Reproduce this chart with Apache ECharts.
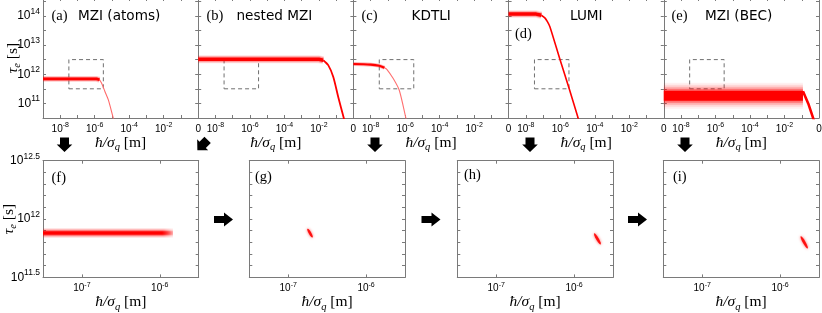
<!DOCTYPE html>
<html><head><meta charset="utf-8">
<script src="https://cdn.jsdelivr.net/npm/echarts@6/dist/echarts.min.js"></script>
<style>html,body{margin:0;padding:0;background:#fff}#c{width:822px;height:313px}</style>
</head><body><div id="c"></div>
<script>
// ---------------- DATA (x = log10(ħ/σq [m]), y = log10(τe [s])) ----------------
const topPanelLabels = ['(a)', '(b)', '(c)', '(d)', '(e)'];
const topPanelTitles = ['MZI (atoms)', 'nested MZI', 'KDTLI', 'LUMI', 'MZI (BEC)'];
const bottomPanelLabels = ['(f)', '(g)', '(h)', '(i)'];

// (a) MZI (atoms)
const aCoreX = [-9, -5.9, -5.72];
const aCoreY = [11.84, 11.84, 11.81];
const aTailX = [-5.72, -5.6, -5.41, -5.21, -4.92, -4.85];
const aTailY = [11.81, 11.69, 11.41, 11.12, 10.49, 10.36];
// (b) nested MZI
const bCoreX = [-9, -2.0, -1.75];
const bCoreY = [12.51, 12.51, 12.48];
const bTailX = [-1.75, -1.46, -1.17, -0.88, -0.55, -0.5];
const bTailY = [12.48, 12.31, 11.91, 11.22, 10.48, 10.38];
// (c) KDTLI
const cCoreX = [-9, -8, -7.5, -7.2];
const cCoreY = [12.35, 12.33, 12.29, 12.22];
const cTailX = [-7.2, -7.05, -6.69, -6.34, -5.95, -5.9];
const cTailY = [12.22, 12.16, 11.85, 11.45, 10.48, 10.36];
// (d) LUMI
const dCoreX = [-9, -7.4, -7.1];
const dCoreY = [14.06, 14.06, 14.02];
const dTailX = [-7.1, -6.9, -6.75, -6.6, -6.02, -5.48, -4.96, -4.9];
const dTailY = [14.02, 13.93, 13.8, 13.62, 12.5, 11.49, 10.48, 10.37];
// (e) MZI (BEC)
const eCoreX = [-9, -0.93];
const eCoreY = [11.26, 11.26];
const eTailX = [-0.93, -0.62, -0.33, -0.28];
const eTailY = [11.42, 10.99, 10.48, 10.4];

// zoom window shown in the bottom row
const zoomBoxX = [-7.5, -5.5];
const zoomBoxY = [11.5, 12.5];

// (f) band, (g)(h)(i) single spots
const fBandX = [-7.5, -5.83];
const fBandY = [11.88, 11.88];
const gSpot = [-6.72, 11.88];
const hSpot = [-5.70, 11.83];
const iSpot = [-5.69, 11.80];

// axis ranges / tick values
const topXRange = [-9, 0];
const topYRange = [10.5, 14.61];
const botXTicks = [-7, -6];
const botYRange = [11.5, 12.5];

// ---------------- STYLE ----------------
const SANS = '"Liberation Sans", Arial, sans-serif';
const SERIF = '"Liberation Serif", "DejaVu Serif", serif';
const AXC = '#7a7a7a';
const RED = '#ff0000';

const zip = (xs, ys) => xs.map((x, k) => [x, ys[k]]);

const xRich = {
  b: {fontFamily: SANS, fontSize: 10, color: '#000', lineHeight: 14},
  s: {fontFamily: SANS, fontSize: 7, color: '#000', lineHeight: 14, verticalAlign: 'top'}
};
const yRich = {
  b: {fontFamily: SANS, fontSize: 12, color: '#000', lineHeight: 18},
  s: {fontFamily: SANS, fontSize: 8.5, color: '#000', lineHeight: 18, verticalAlign: 'top'}
};
const nameRich = {
  i: {fontFamily: SERIF, fontStyle: 'italic', fontSize: 15.5, color: '#000', lineHeight: 20},
  q: {fontFamily: SERIF, fontStyle: 'italic', fontSize: 10.5, color: '#000', lineHeight: 20, verticalAlign: 'bottom'},
  r: {fontFamily: SERIF, fontSize: 15.5, color: '#000', lineHeight: 20}
};
const X_NAME = '{i|ħ/σ}{q|q}{r| [m]}';
const Y_NAME = '{i|τ}{q|e}{r| [s]}';

function fmtTopX(v) {
  const r = Math.round(v);
  if (Math.abs(v - r) > 1e-6) return '';
  if (r === 0) return '{b|0}';
  if (r % 2 === 0) return '{b|10}{s|' + r + '}';
  return '';
}
function fmtTopY(v) {
  const r = Math.round(v);
  if (Math.abs(v - r) > 1e-6) return '';
  return '{b|10}{s|' + r + '}';
}
function fmtBotY(v) {
  const h = Math.round(v * 2) / 2;
  if (Math.abs(v - h) > 1e-6) return '';
  return '{b|10}{s|' + h + '}';
}
function fmtBotX(v) {
  return '{b|10}{s|' + Math.round(v) + '}';
}

const grids = [], xAxes = [], yAxes = [], series = [], graphics = [];
const TOP_L = 43, TOP_W = 155.2;
for (let i = 0; i < 5; i++) grids.push({left: TOP_L + i * TOP_W, top: -2, width: TOP_W, height: 120, outerBoundsMode: 'none', containLabel: false});
const BOT_L = [43, 249.3, 457.3, 663.3];
for (let i = 0; i < 4; i++) grids.push({left: BOT_L[i], top: 160.7, width: 155.7, height: 116.7, outerBoundsMode: 'none', containLabel: false});

function axisBase(gi, pos) {
  return {
    type: 'value', gridIndex: gi, position: pos,
    axisLine: {show: true, onZero: false, lineStyle: {color: AXC, width: 1}},
    splitLine: {show: false},
    axisPointer: {show: false},
    nameMoveOverlap: false
  };
}
const tick = {show: true, inside: true, length: 3, lineStyle: {color: AXC}};

// top row axes
for (let i = 0; i < 5; i++) {
  const bx = axisBase(i, 'bottom');
  Object.assign(bx, {
    min: topXRange[0], max: topXRange[1], interval: 1, axisTick: tick,
    axisLabel: {show: true, margin: 4, formatter: fmtTopX, rich: xRich, showMaxLabel: true, showMinLabel: true},
    name: X_NAME, nameLocation: 'middle', nameGap: 15, nameTextStyle: {rich: nameRich}
  });
  const tx = axisBase(i, 'top');
  Object.assign(tx, {min: topXRange[0], max: topXRange[1], interval: 1, axisTick: tick, axisLabel: {show: false}});
  xAxes.push(bx, tx);
  const ly = axisBase(i, 'left');
  Object.assign(ly, {
    min: topYRange[0], max: topYRange[1], interval: 0.5, axisTick: tick,
    axisLabel: {show: i === 0, margin: 3, formatter: fmtTopY, rich: yRich}
  });
  if (i === 0) Object.assign(ly, {name: Y_NAME, nameLocation: 'middle', nameGap: 20, nameRotate: 90, nameTextStyle: {rich: nameRich}});
  const ry = axisBase(i, 'right');
  Object.assign(ry, {min: topYRange[0], max: topYRange[1], interval: 0.5, axisTick: tick, axisLabel: {show: false}});
  yAxes.push(ly, ry);
}
// bottom row axes
for (let j = 0; j < 4; j++) {
  const gi = 5 + j;
  const bx = axisBase(gi, 'bottom');
  Object.assign(bx, {
    min: zoomBoxX[0], max: zoomBoxX[1],
    axisTick: Object.assign({customValues: botXTicks}, tick),
    axisLabel: {show: true, margin: 4, formatter: fmtBotX, rich: xRich, customValues: botXTicks},
    name: X_NAME, nameLocation: 'middle', nameGap: 15, nameTextStyle: {rich: nameRich}
  });
  const tx = axisBase(gi, 'top');
  Object.assign(tx, {min: zoomBoxX[0], max: zoomBoxX[1], axisTick: Object.assign({customValues: botXTicks}, tick), axisLabel: {show: false}});
  xAxes.push(bx, tx);
  const ly = axisBase(gi, 'left');
  Object.assign(ly, {
    min: botYRange[0], max: botYRange[1], interval: 0.1, axisTick: tick,
    axisLabel: {show: j === 0, margin: 3, formatter: fmtBotY, rich: yRich, showMinLabel: true, showMaxLabel: true}
  });
  if (j === 0) Object.assign(ly, {name: Y_NAME, nameLocation: 'middle', nameGap: 24, nameRotate: 90, nameTextStyle: {rich: nameRich}});
  const ry = axisBase(gi, 'right');
  Object.assign(ry, {min: botYRange[0], max: botYRange[1], interval: 0.1, axisTick: tick, axisLabel: {show: false}});
  yAxes.push(ly, ry);
}

function lineSeries(gi, data, style, extra) {
  return Object.assign({
    type: 'line', xAxisIndex: 2 * gi, yAxisIndex: 2 * gi, data: data,
    showSymbol: false, symbol: 'none', silent: true, animation: false, clip: true,
    lineStyle: Object.assign({cap: 'butt', join: 'round'}, style), z: 3
  }, extra || {});
}
// a soft band: a solid core plus wider translucent halos of the same path
function band(gi, data, coreW, halos, extra, fadeEnd) {
  const col = a => fadeEnd ? {type: 'linear', x: 0, y: 0, x2: 1, y2: 0, colorStops: [
      {offset: 0, color: 'rgba(255,0,0,' + a + ')'}, {offset: fadeEnd, color: 'rgba(255,0,0,' + a + ')'},
      {offset: 1, color: 'rgba(255,0,0,0)'}]} : 'rgba(255,0,0,' + a + ')';
  halos.forEach(([w, a]) => series.push(lineSeries(gi, data, {color: col(a), width: w}, extra)));
  series.push(lineSeries(gi, data, {color: col(1), width: coreW}, extra));
}
function boxMark() {
  return {
    silent: true,
    itemStyle: {color: 'rgba(0,0,0,0)', borderColor: '#707070', borderWidth: 1, borderType: [4, 3]},
    data: [[{coord: [zoomBoxX[0], zoomBoxY[0]]}, {coord: [zoomBoxX[1], zoomBoxY[1]]}]]
  };
}

// (a)
series.push(lineSeries(0, zip(aTailX, aTailY), {color: '#ff6a6a', width: 1.1}, {smooth: 0.25, markArea: boxMark()}));
band(0, zip(aCoreX, aCoreY), 2.6, [[6, 0.15], [4.4, 0.3]]);
// (b)
series.push(lineSeries(1, zip(bTailX, bTailY), {color: RED, width: 1.8}, {smooth: 0.25, markArea: boxMark()}));
band(1, zip(bCoreX, bCoreY), 3.6, [[8, 0.12], [6, 0.3]]);
// (c)
series.push(lineSeries(2, zip(cTailX, cTailY), {color: '#ff7070', width: 1.1}, {smooth: 0.25, markArea: boxMark()}));
band(2, zip(cCoreX, cCoreY), 2.2, [[3.8, 0.3]], {smooth: 0.3});
// (d)
series.push(lineSeries(3, zip(dTailX, dTailY), {color: RED, width: 1.6}, {smooth: 0.25, markArea: boxMark()}));
band(3, zip(dCoreX, dCoreY), 3.4, [[7.5, 0.12], [5.5, 0.3]]);
// (e)
series.push(lineSeries(4, zip(eTailX, eTailY), {color: RED, width: 2.6}, {markArea: boxMark()}));
band(4, zip(eCoreX, eCoreY), 10, [[26, 0.06], [22, 0.1], [18, 0.18], [14, 0.35]]);
// (f)
band(5, zip(fBandX, fBandY), 3.6, [[10, 0.1], [8, 0.18], [6, 0.35]], null, 0.9);
// (g)(h)(i) spots
const ELL = 'path://M10 0 A10 10 0 1 1 10 20 A10 10 0 1 1 10 0 Z';
[[6, gSpot, [2.6, 10]], [7, hSpot, [2.8, 13]], [8, iSpot, [2.8, 14]]].forEach(([gi, pt, sz]) => {
  series.push({
    type: 'scatter', xAxisIndex: 2 * gi, yAxisIndex: 2 * gi, data: [pt], silent: true, animation: false,
    symbol: ELL, symbolSize: sz, symbolRotate: 30,
    itemStyle: {color: RED, opacity: 0.9, shadowBlur: 3, shadowColor: 'rgba(255,0,0,0.7)'}
  });
});

// ---------------- annotations ----------------
const txt = (x, y, text, font, align) => ({
  type: 'text', x: x, y: y, silent: true, z: 10,
  style: {text: text, font: font, fill: '#000', align: align || 'left', verticalAlign: 'middle'}
});
const SERIF_F = '14.5px "Liberation Serif", serif';
const TITLE_F = '13.6px "DejaVu Sans", sans-serif';
const topLabelPos = [[51.5, 16.5], [206.5, 16.5], [361.5, 16.5], [515, 34], [671.5, 16.5]];
const topTitlePos = [[78, 16], [236.5, 16], [411.5, 16], [570, 16], [705, 16]];
topPanelLabels.forEach((t, k) => graphics.push(txt(topLabelPos[k][0], topLabelPos[k][1], t, SERIF_F)));
topPanelTitles.forEach((t, k) => graphics.push(txt(topTitlePos[k][0], topTitlePos[k][1], t, TITLE_F)));
const botLabelPos = [[51.5, 178], [255, 177], [464, 175.5], [673, 177]];
bottomPanelLabels.forEach((t, k) => graphics.push(txt(botLabelPos[k][0], botLabelPos[k][1], t, SERIF_F)));

const downPts = [[-4.5, 0], [4.5, 0], [4.5, 7], [7.8, 7], [0, 14.5], [-7.8, 7], [-4.5, 7]];
const rightPts = [[0, -3.6], [10, -3.6], [10, -7], [19, 0], [10, 7], [10, 3.6], [0, 3.6]];
[64.5, 375, 530, 685].forEach(x => graphics.push({type: 'polygon', x: x, y: 137.5, silent: true, shape: {points: downPts}, style: {fill: '#000'}}));
graphics.push({type: 'polygon', x: 202.5, y: 145, rotation: -Math.PI / 4, silent: true,
  shape: {points: downPts.map(p => [p[0], p[1] - 7.25])}, style: {fill: '#000'}});
[214, 421.5, 628].forEach(x => graphics.push({type: 'polygon', x: x, y: 219.5, silent: true, shape: {points: rightPts}, style: {fill: '#000'}}));

const chart = echarts.init(document.getElementById('c'), null, {renderer: 'canvas'});
chart.setOption({
  animation: false,
  backgroundColor: '#fff',
  grid: grids, xAxis: xAxes, yAxis: yAxes, series: series, graphic: graphics
});
</script></body></html>
